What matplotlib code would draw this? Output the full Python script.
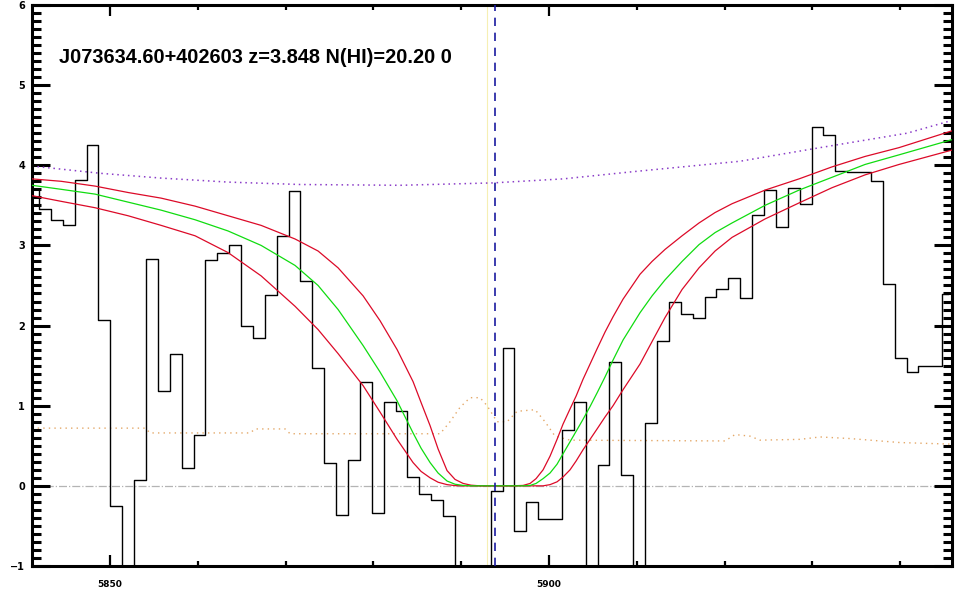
import numpy as np
import matplotlib
matplotlib.use('Agg')
import matplotlib.pyplot as plt
from matplotlib.ticker import MultipleLocator, FixedLocator

# observed spectrum (pixel centres, Angstrom) and flux
wave = [5841.23, 5842.59, 5843.94, 5845.29, 5846.64, 5848.00, 5849.35,
        5850.71, 5852.06, 5853.41, 5854.77, 5856.12, 5857.47, 5858.83,
        5860.18, 5861.53, 5862.89, 5864.24, 5865.60, 5866.95, 5868.30,
        5869.66, 5871.01, 5872.36, 5873.72, 5875.07, 5876.42, 5877.78,
        5879.13, 5880.49, 5881.84, 5883.19, 5884.55, 5885.90, 5887.25,
        5888.61, 5889.96, 5891.31, 5892.67, 5894.02, 5895.38, 5896.73,
        5898.08, 5899.44, 5900.79, 5902.14, 5903.50, 5904.85, 5906.20,
        5907.56, 5908.91, 5910.27, 5911.62, 5912.97, 5914.33, 5915.68,
        5917.03, 5918.39, 5919.74, 5921.09, 5922.45, 5923.80, 5925.16,
        5926.51, 5927.86, 5929.22, 5930.57, 5931.92, 5933.28, 5934.63,
        5935.98, 5937.34, 5938.69, 5940.05, 5941.40, 5942.75, 5944.11,
        5945.46]
flux = [3.70, 3.46, 3.32, 3.26, 3.81, 4.25, 2.07, -0.25, -1.50, 0.075,
        2.83, 1.18, 1.64, 0.225, 0.63, 2.82, 2.90, 3.00, 1.99, 1.85,
        2.38, 3.12, 3.68, 2.56, 1.47, 0.28, -0.36, 0.325, 1.29, -0.34,
        1.04, 0.94, 0.11, -0.10, -0.18, -0.375, -1.60, -2.00, -1.70, -0.06,
        1.72, -0.56, -0.20, -0.42, -0.42, 0.70, 1.04, -1.50, 0.26, 1.55,
        0.14, -1.40, 0.78, 1.81, 2.30, 2.14, 2.09, 2.36, 2.46, 2.59,
        2.34, 3.38, 3.69, 3.23, 3.72, 3.52, 4.48, 4.38, 3.93, 3.91,
        3.92, 3.80, 2.52, 1.59, 1.42, 1.49, 1.49, 2.39]

# error spectrum
err_wave = [5841.12, 5853.99, 5854.56, 5865.95, 5866.51, 5869.93, 5870.50,
            5887.59, 5888.72, 5889.86, 5891.00, 5892.14, 5892.94, 5894.08,
            5895.22, 5896.36, 5898.41, 5899.54, 5900.68, 5902.39, 5920.05,
            5921.18, 5922.89, 5924.03, 5928.59, 5930.87, 5934.28, 5939.98,
            5945.90]
err = [0.72, 0.72, 0.66, 0.66, 0.71, 0.71, 0.65, 0.65, 0.80, 0.98, 1.10,
       1.10, 1.00, 0.80, 0.80, 0.93, 0.95, 0.80, 0.62, 0.57, 0.56, 0.64,
       0.62, 0.57, 0.58, 0.61, 0.59, 0.54, 0.52]

# continuum guess (dotted)
cont_wave = [5841.12, 5848.86, 5855.81, 5863.44, 5871.64, 5883.03, 5893.62,
             5901.59, 5909.57, 5921.75, 5930.87, 5940.77, 5945.90]
cont = [3.99, 3.90, 3.84, 3.79, 3.76, 3.75, 3.78, 3.83, 3.92, 4.05, 4.22,
        4.40, 4.56]

# DLA model for N(HI)=20.20 and the two bounding fits
model_wave = [5841.12, 5844.42, 5848.29, 5852.05, 5855.81, 5859.68, 5863.44,
              5867.20, 5871.07, 5873.69, 5875.97, 5878.82, 5880.75, 5882.69,
              5884.51, 5885.42, 5886.45, 5887.36, 5888.38, 5889.29, 5890.21,
              5891.12, 5892.14, 5895.56, 5897.04, 5897.84, 5898.52, 5899.32,
              5900.11, 5900.91, 5901.59, 5902.39, 5903.08, 5903.87, 5904.67,
              5905.47, 5906.38, 5907.29, 5908.43, 5910.36, 5911.73, 5913.21,
              5915.15, 5917.08, 5918.91, 5920.84, 5924.60, 5928.47, 5932.23,
              5935.99, 5939.86, 5945.90]
model_best = [3.75, 3.70, 3.64, 3.54, 3.44, 3.32, 3.18, 3.00, 2.75, 2.50,
              2.20, 1.75, 1.42, 1.06, 0.66, 0.47, 0.29, 0.16, 0.06, 0.02,
              0.005, 0.0, 0.0, 0.0, 0.0, 0.005, 0.03, 0.09, 0.16, 0.27,
              0.40, 0.55, 0.68, 0.83, 0.99, 1.16, 1.36, 1.57, 1.82, 2.16,
              2.37, 2.57, 2.80, 3.01, 3.16, 3.28, 3.50, 3.69, 3.85, 4.01,
              4.13, 4.32]
model_hi = [3.83, 3.80, 3.74, 3.66, 3.59, 3.49, 3.37, 3.25, 3.08, 2.93,
            2.72, 2.37, 2.06, 1.70, 1.30, 1.04, 0.75, 0.46, 0.19, 0.08,
            0.03, 0.008, 0.0, 0.0, 0.005, 0.03, 0.09, 0.20, 0.37, 0.58,
            0.77, 0.96, 1.12, 1.33, 1.52, 1.71, 1.92, 2.11, 2.33, 2.64,
            2.80, 2.95, 3.12, 3.28, 3.41, 3.52, 3.69, 3.83, 3.98, 4.11,
            4.22, 4.43]
model_lo = [3.62, 3.55, 3.47, 3.37, 3.25, 3.12, 2.91, 2.62, 2.24, 1.95,
            1.65, 1.25, 0.92, 0.58, 0.29, 0.18, 0.10, 0.045, 0.015, 0.003,
            0.0, 0.0, 0.0, 0.0, 0.0, 0.0, 0.0, 0.0, 0.015, 0.05,
            0.11, 0.20, 0.31, 0.45, 0.58, 0.71, 0.86, 1.00, 1.20, 1.52,
            1.80, 2.10, 2.45, 2.72, 2.93, 3.10, 3.33, 3.53, 3.72, 3.88,
            4.01, 4.19]

lya_obs = 5893.8
title = 'J073634.60+402603 z=3.848 N(HI)=20.20 0'


def plot_dla():
    fig = plt.figure(figsize=(9.6, 6.0), dpi=100)
    ax = fig.add_axes([0.0333, 0.0567, 0.9584, 0.935])

    ax.axhline(0, color='#b4b4b4', linestyle='-.', lw=0.9, zorder=1)
    ax.axvline(5892.94, color='#f6efb4', lw=0.8, zorder=1)
    ax.plot(err_wave, err, color='#e4a868', linestyle=(0, (1, 3)), lw=1.0)
    ax.plot(cont_wave, cont, color='#8a3cc8', linestyle=(0, (1, 2.5)),
            lw=1.1)

    ax.step(wave, flux, where='mid', color='k', lw=1.0, zorder=3)

    ax.plot(model_wave, model_hi, color='#dc0a28', lw=0.9, zorder=4)
    ax.plot(model_wave, model_lo, color='#dc0a28', lw=0.9, zorder=4)
    ax.plot(model_wave, model_best, color='#10dc10', lw=0.9, zorder=4)

    ax.axvline(lya_obs, color='#1a1aa0', linestyle=(0, (5, 4)), lw=1.2,
               zorder=5)

    ax.text(0.029, 0.907, title, transform=ax.transAxes, fontsize=14.3,
            family='Liberation Sans', weight='bold', va='center')

    ax.set_xlim(5841.1, 5945.9)
    ax.set_ylim(-1, 6)

    ax.xaxis.set_major_locator(FixedLocator([5850, 5900]))
    ax.xaxis.set_minor_locator(MultipleLocator(10))
    ax.yaxis.set_major_locator(MultipleLocator(1))
    ax.yaxis.set_minor_locator(MultipleLocator(0.1))
    ax.set_xticklabels(['5850', '5900'])

    ax.tick_params(axis='x', which='major', direction='in', length=8,
                   width=1.6, top=True, pad=10, labelsize=6.5)
    ax.tick_params(axis='x', which='minor', direction='in', length=3.5,
                   width=1.6, top=True)
    ax.tick_params(axis='y', which='major', direction='in', length=13,
                   width=2.2, right=True, pad=5, labelsize=7)
    ax.tick_params(axis='y', which='minor', direction='in', length=6.5,
                   width=2.2, right=True)
    for lab in ax.get_xticklabels() + ax.get_yticklabels():
        lab.set_fontweight('bold')

    for s in ax.spines.values():
        s.set_linewidth(2.2)

    fig.savefig('out.png', dpi=100)


if __name__ == '__main__':
    plot_dla()
